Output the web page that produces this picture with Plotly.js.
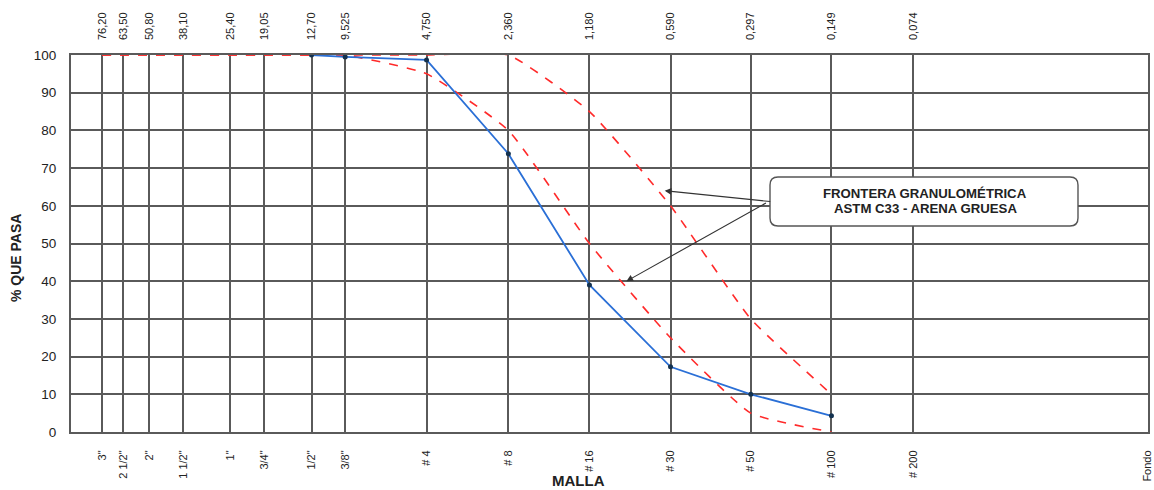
<!DOCTYPE html>
<html>
<head>
<meta charset="utf-8">
<script src="https://cdn.plot.ly/plotly-3.0.1.min.js"></script>
<style>html,body{margin:0;padding:0;background:#fff}#chart{width:1154px;height:490px}</style>
</head>
<body>
<div id="chart"></div>
<script>
// Sieve openings (mm) and names
const sieveMm = [76.2, 63.5, 50.8, 38.1, 25.4, 19.05, 12.7, 9.525, 4.75, 2.36, 1.18, 0.59, 0.297, 0.149, 0.074];
const sieveNames = ['3"', '2 1/2"', '2"', '1 1/2"', '1"', '3/4"', '1/2"', '3/8"', '# 4', '# 8', '# 16', '# 30', '# 50', '# 100', '# 200'];
const mmLabels = ['76,20', '63,50', '50,80', '38,10', '25,40', '19,05', '12,70', '9,525', '4,750', '2,360', '1,180', '0,590', '0,297', '0,149', '0,074'];
const panMm = 0.01;
const panLabel = 'Fondo';

// Sample gradation (% passing)
const sampleMm = [12.7, 9.525, 4.75, 2.36, 1.18, 0.59, 0.297, 0.149];
const samplePass = [100, 99.5, 98.7, 73.8, 39.0, 17.3, 10.0, 4.3];

// ASTM C33 fine aggregate limits
const limitMm = [76.2, 63.5, 50.8, 38.1, 25.4, 19.05, 12.7, 9.525, 4.75, 2.36, 1.18, 0.59, 0.297, 0.149];
const lowerLimit = [100, 100, 100, 100, 100, 100, 100, 100, 95, 80, 50, 25, 5, 0];
const upperLimit = [100, 100, 100, 100, 100, 100, 100, 100, 100, 100, 85, 60, 30, 10];

const yTicks = [0, 10, 20, 30, 40, 50, 60, 70, 80, 90, 100];

const FONT = 'Arial, "Liberation Sans", sans-serif';
const xRange = [Math.log10(99.3), Math.log10(0.00995)];
const GRID = '#5a5a5a';

const traces = [
  {x: limitMm, y: upperLimit, mode: 'lines', line: {color: '#ff2a2a', width: 1.6, dash: 'dash', shape: 'spline', smoothing: 0.45}, hoverinfo: 'skip', showlegend: false},
  {x: limitMm, y: lowerLimit, mode: 'lines', line: {color: '#ff2a2a', width: 1.6, dash: 'dash', shape: 'spline', smoothing: 0.45}, hoverinfo: 'skip', showlegend: false},
  {x: sampleMm, y: samplePass, mode: 'lines+markers', line: {color: '#2a6fd6', width: 1.8}, marker: {color: '#13314f', size: 5}, showlegend: false},
  {x: sieveMm, y: sieveMm.map(() => 100), xaxis: 'x2', mode: 'markers', marker: {opacity: 0}, hoverinfo: 'skip', showlegend: false}
];

const layout = {
  width: 1154, height: 490,
  margin: {l: 71, r: 6, t: 55, b: 58},
  paper_bgcolor: '#ffffff', plot_bgcolor: '#ffffff',
  font: {family: FONT, color: '#222', size: 12},
  showlegend: false,
  xaxis: {
    type: 'log', range: xRange,
    tickmode: 'array', tickvals: sieveMm.concat([panMm]), ticktext: sieveNames.concat([panLabel]),
    tickangle: -90, tickfont: {size: 11, family: FONT, color: '#222'},
    ticks: '', ticklabelstandoff: 12,
    showgrid: true, gridcolor: GRID, gridwidth: 2,
    showline: true, linecolor: GRID, linewidth: 2, mirror: true,
    zeroline: false, layer: 'below traces'
  },
  xaxis2: {
    type: 'log', range: xRange, overlaying: 'x', side: 'top', anchor: 'y',
    tickmode: 'array', tickvals: sieveMm, ticktext: mmLabels,
    tickangle: -90, tickfont: {size: 11, family: FONT, color: '#222'},
    ticks: '', ticklabelstandoff: 14,
    showgrid: false, showline: false, zeroline: false
  },
  yaxis: {
    range: [0, 100], tickmode: 'array', tickvals: yTicks,
    tickfont: {size: 13.5, family: FONT, color: '#222'},
    ticks: '', ticklabelstandoff: 10,
    showgrid: true, gridcolor: GRID, gridwidth: 2,
    showline: true, linecolor: GRID, linewidth: 2, mirror: true,
    zeroline: false, layer: 'below traces'
  },
  shapes: [],
  annotations: [
    {xref: 'paper', yref: 'paper', x: (16 - 71) / 1077, y: (432 - 258) / 377, text: '<b>% QUE PASA</b>', textangle: -90, showarrow: false,
     font: {size: 14, family: FONT, color: '#222'}, xanchor: 'center', yanchor: 'middle'},
    {xref: 'paper', yref: 'paper', x: (578 - 71) / 1077, y: -(480 - 432) / 377, text: '<b>MALLA</b>', showarrow: false,
     font: {size: 15, family: FONT, color: '#222'}, xanchor: 'center', yanchor: 'middle'},
    {xref: 'paper', yref: 'paper', x: (925 - 71) / 1077, y: (432 - 193.5) / 377,
     text: '<b>FRONTERA GRANULOMÉTRICA</b>', showarrow: false,
     font: {size: 13.2, family: FONT, color: '#222'}, xanchor: 'center', yanchor: 'middle'},
    {xref: 'paper', yref: 'paper', x: (925 - 71) / 1077, y: (432 - 208.5) / 377,
     text: '<b>ASTM C33 - ARENA GRUESA</b>', showarrow: false,
     font: {size: 13.2, family: FONT, color: '#222'}, xanchor: 'center', yanchor: 'middle'},
    {xref: 'x', yref: 'y', x: Math.log10(0.62), y: 64, ax: 107, ay: 11, axref: 'pixel', ayref: 'pixel',
     showarrow: true, arrowhead: 2, arrowsize: 1.2, arrowwidth: 1.1, arrowcolor: '#333', text: ''},
    {xref: 'x', yref: 'y', x: Math.log10(0.86), y: 40, ax: 141, ay: -79, axref: 'pixel', ayref: 'pixel',
     showarrow: true, arrowhead: 2, arrowsize: 1.2, arrowwidth: 1.1, arrowcolor: '#333', text: ''}
  ]
};

// rounded rectangle for the label box (pixel -> paper)
(function () {
  const L = 71, W = 1077, T = 55, H = 377;
  const px = v => ((v - L) / W).toFixed(5);
  const py = v => (1 - (v - T) / H).toFixed(5);
  const x0 = 770, x1 = 1078, y0 = 177, y1 = 226, r = 8;
  const p = `M ${px(x0 + r)} ${py(y0)} L ${px(x1 - r)} ${py(y0)} Q ${px(x1)} ${py(y0)} ${px(x1)} ${py(y0 + r)} ` +
    `L ${px(x1)} ${py(y1 - r)} Q ${px(x1)} ${py(y1)} ${px(x1 - r)} ${py(y1)} ` +
    `L ${px(x0 + r)} ${py(y1)} Q ${px(x0)} ${py(y1)} ${px(x0)} ${py(y1 - r)} ` +
    `L ${px(x0)} ${py(y0 + r)} Q ${px(x0)} ${py(y0)} ${px(x0 + r)} ${py(y0)} Z`;
  layout.shapes.push({type: 'path', xref: 'paper', yref: 'paper', path: p, line: {color: '#555', width: 1.4}, fillcolor: '#ffffff', layer: 'above'});
})();

Plotly.newPlot('chart', traces, layout, {displayModeBar: false, staticPlot: true}).then(function () {
  // keep the box text above the box shape
});
</script>
</body>
</html>
